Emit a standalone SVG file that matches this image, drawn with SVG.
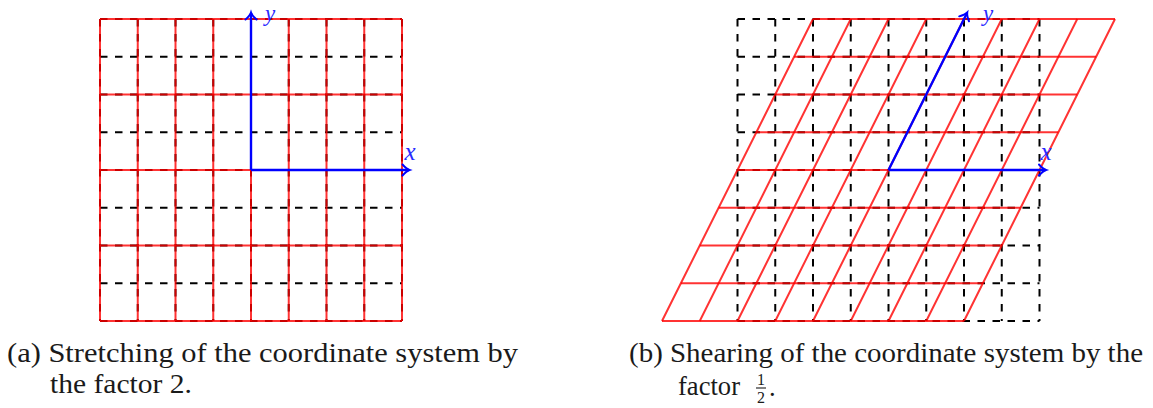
<svg xmlns="http://www.w3.org/2000/svg" width="1153" height="408" viewBox="0 0 1153 408">
<style>
.dash{stroke:#000;stroke-width:2;stroke-dasharray:7.5 7.5;fill:none}
.red{stroke:#ff0000;stroke-opacity:0.8;stroke-width:2;fill:none}
.axis{stroke:#0000ff;stroke-width:2.4;fill:none;marker-end:url(#arr)}
.lbl{font-family:"Liberation Serif","DejaVu Serif",serif;font-style:italic;font-size:25px;fill:#2a2aff;text-anchor:middle}
.cap{font-family:"Liberation Serif","DejaVu Serif",serif;font-size:26.5px;fill:#1a1a1a}
.frac{font-family:"Liberation Serif","DejaVu Serif",serif;font-size:16px;fill:#1a1a1a;text-anchor:middle}
</style>
<defs>
<marker id="arr" markerUnits="userSpaceOnUse" markerWidth="20" markerHeight="20" viewBox="-10 -10 20 20" refX="0" refY="0" orient="auto" overflow="visible">
<path d="M-6.5,-5.5 Q-2.5,-1 0.5,0 Q-2.5,1 -6.5,5.5" fill="none" stroke="#0000ff" stroke-width="2" stroke-linecap="round"/>
</marker>
</defs>

<g id="fig-a">
<g id="a-grid">
<path class="dash" d="M100,19V321M137.75,19V321M175.5,19V321M213.25,19V321M251,19V321M288.75,19V321M326.5,19V321M364.25,19V321M402,19V321"/>
<path class="dash" d="M100,19H402M100,56.75H402M100,94.5H402M100,132.25H402M100,170H402M100,207.75H402M100,245.5H402M100,283.25H402M100,321H402"/>
</g>
<g id="a-stretched">
<path class="red" d="M100,19V321M137.75,19V321M175.5,19V321M213.25,19V321M251,19V321M288.75,19V321M326.5,19V321M364.25,19V321M402,19V321"/>
<path class="red" d="M100,19H402M100,94.5H402M100,170H402M100,245.5H402M100,321H402"/>
</g>
<g id="a-axes">
<line class="axis" x1="251" y1="170" x2="409" y2="170"/>
<line class="axis" x1="251" y1="170" x2="251" y2="13"/>
<text class="lbl" x="410" y="160">x</text>
<text class="lbl" x="270" y="20.5" style="font-size:23px">y</text>
</g>
</g>

<g id="fig-b">
<g id="b-grid">
<path class="dash" d="M737.5,19V321M775.25,19V321M813,19V321M850.75,19V321M888.5,19V321M926.25,19V321M964,19V321M1001.75,19V321M1039.5,19V321"/>
<path class="dash" d="M737.5,19H1039.5M737.5,56.75H1039.5M737.5,94.5H1039.5M737.5,132.25H1039.5M737.5,170H1039.5M737.5,207.75H1039.5M737.5,245.5H1039.5M737.5,283.25H1039.5M737.5,321H1039.5"/>
</g>
<g id="b-sheared">
<path class="red" d="M662,321H964M680.875,283.25H982.875M699.75,245.5H1001.75M718.625,207.75H1020.625M737.5,170H1039.5M756.375,132.25H1058.375M775.25,94.5H1077.25M794.125,56.75H1096.125M813,19H1115"/>
<path class="red" d="M662,321L813,19M699.75,321L850.75,19M737.5,321L888.5,19M775.25,321L926.25,19M813,321L964,19M850.75,321L1001.75,19M888.5,321L1039.5,19M926.25,321L1077.25,19M964,321L1115,19"/>
</g>
<g id="b-axes">
<line class="axis" x1="888.5" y1="170" x2="1045.5" y2="170"/>
<line class="axis" x1="888.5" y1="170" x2="967" y2="13"/>
<text class="lbl" x="1046" y="160">x</text>
<text class="lbl" x="988" y="20.5" style="font-size:23px">y</text>
</g>
</g>

<g id="caption-a">
<text class="cap" x="7" y="362" textLength="511" lengthAdjust="spacingAndGlyphs">(a) Stretching of the coordinate system by</text>
<text class="cap" x="50" y="393" textLength="142" lengthAdjust="spacingAndGlyphs">the factor 2.</text>
</g>
<g id="caption-b">
<text class="cap" x="629" y="362" textLength="514" lengthAdjust="spacingAndGlyphs">(b) Shearing of the coordinate system by the</text>
<text class="cap" x="678" y="395" textLength="62" lengthAdjust="spacingAndGlyphs">factor</text>
<text class="frac" x="761" y="385">1</text>
<line x1="756" y1="388" x2="766" y2="388" stroke="#1a1a1a" stroke-width="1.1"/>
<text class="frac" x="761" y="403">2</text>
<text class="cap" x="769" y="396">.</text>
</g>
</svg>
